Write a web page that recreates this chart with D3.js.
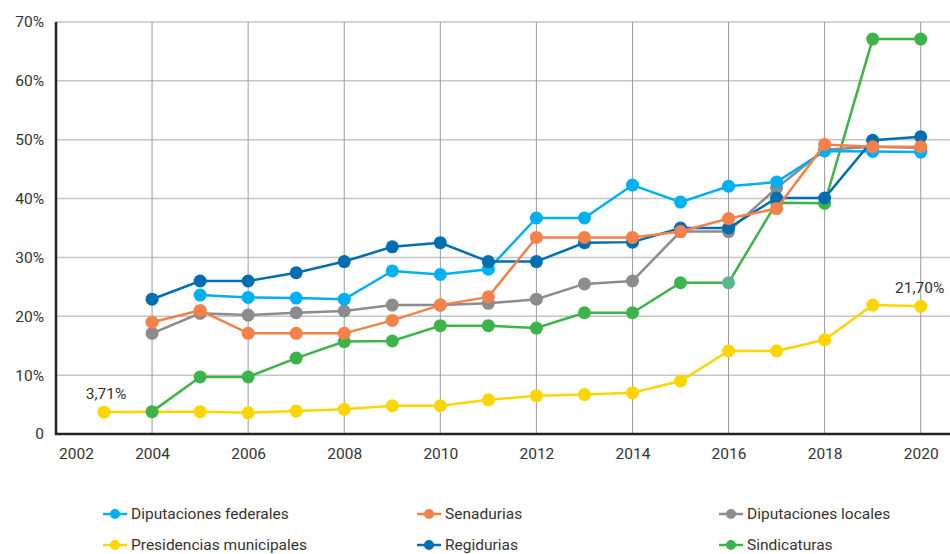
<!DOCTYPE html>
<html>
<head>
<meta charset="utf-8">
<script src="https://cdn.jsdelivr.net/npm/d3@7"></script>
<style>
  body { margin: 0; background: #fff; }
  text { font-family: Roboto, "Noto Sans", sans-serif; fill: #333; }
</style>
</head>
<body>
<div id="chart"></div>
<script>
// data (% of women)
var years = [2003, 2004, 2005, 2006, 2007, 2008, 2009, 2010, 2011, 2012, 2013, 2014, 2015, 2016, 2017, 2018, 2019, 2020];

var dipFederales = [null, null, 23.6, 23.2, 23.1, 22.9, 27.7, 27.1, 28.0, 36.7, 36.7, 42.3, 39.4, 42.1, 42.8, 48.1, 48.0, 47.9];
var senadurias = [null, 19.0, 21.0, 17.1, 17.1, 17.1, 19.3, 21.9, 23.3, 33.4, 33.4, 33.4, 34.4, 36.6, 38.3, 49.2, 48.8, 48.8];
var dipLocales = [null, 17.1, 20.5, 20.2, 20.6, 20.9, 21.9, 21.9, 22.2, 22.9, 25.5, 26.0, 34.4, 34.4, 41.8, 48.3, 48.8, 48.6];
var presidencias = [3.71, 3.8, 3.8, 3.6, 3.9, 4.2, 4.8, 4.8, 5.8, 6.5, 6.7, 7.0, 9.0, 14.1, 14.1, 16.0, 21.9, 21.7];
var regidurias = [null, 22.9, 26.0, 26.0, 27.4, 29.3, 31.8, 32.5, 29.3, 29.3, 32.5, 32.6, 35.0, 35.0, 40.1, 40.1, 49.9, 50.5];
var sindicaturas = [null, 3.8, 9.7, 9.7, 12.9, 15.7, 15.8, 18.4, 18.4, 18.0, 20.6, 20.6, 25.7, 25.7, 39.3, 39.2, 67.1, 67.1];

var xTicks = [2002, 2004, 2006, 2008, 2010, 2012, 2014, 2016, 2018, 2020];
var yTicks = [0, 10, 20, 30, 40, 50, 60, 70];

// legend order (row by row)
var legendSeries = [
  { name: "Diputaciones federales", values: dipFederales, color: "#00b0f0" },
  { name: "Senadurias", values: senadurias, color: "#f4804a" },
  { name: "Diputaciones locales", values: dipLocales, color: "#8c8c8e" },
  { name: "Presidencias municipales", values: presidencias, color: "#ffd500" },
  { name: "Regidurias", values: regidurias, color: "#006eb0" },
  { name: "Sindicaturas", values: sindicaturas, color: "#3db34a" }
];

// drawing order, bottom to top
var drawOrder = ["Presidencias municipales", "Sindicaturas", "Diputaciones locales",
  "Diputaciones federales", "Regidurias", "Senadurias"];

var svgWidth = 950;
var svgHeight = 554;
var fontSize = "15.5px";

var svg = d3.select("#chart")
  .append("svg")
  .attr("width", svgWidth)
  .attr("height", svgHeight);

var xScale = d3.scaleLinear()
  .domain([2002, 2020.61])
  .range([56, 950]);

var yScale = d3.scaleLinear()
  .domain([0, 70])
  .range([434, 22]);

// gridlines
svg.append("g")
  .selectAll("line")
  .data(yTicks.filter(d => d > 0))
  .enter()
  .append("line")
  .attr("x1", xScale(2002))
  .attr("x2", 950)
  .attr("y1", d => yScale(d))
  .attr("y2", d => yScale(d))
  .attr("stroke", "#c4c4c4")
  .attr("stroke-width", 1.5);

svg.append("g")
  .selectAll("line")
  .data(xTicks.filter(d => d > 2002))
  .enter()
  .append("line")
  .attr("x1", d => xScale(d))
  .attr("x2", d => xScale(d))
  .attr("y1", yScale(70))
  .attr("y2", yScale(0))
  .attr("stroke", "#9a9a9a")
  .attr("stroke-width", 1);

// axes
var leftAxis = d3.axisLeft(yScale)
  .tickValues(yTicks)
  .tickSize(0)
  .tickPadding(12)
  .tickFormat(d => d === 0 ? "0" : d + "%");

var bottomAxis = d3.axisBottom(xScale)
  .tickValues(xTicks)
  .tickSize(0)
  .tickPadding(14)
  .tickFormat(d3.format("d"));

var yAxisG = svg.append("g")
  .attr("transform", `translate(${xScale(2002)}, 0)`)
  .call(leftAxis);
yAxisG.select(".domain").remove();
yAxisG.selectAll("text").attr("font-size", fontSize).attr("fill", "#333");

var xAxisG = svg.append("g")
  .attr("transform", `translate(0, ${yScale(0)})`)
  .call(bottomAxis);
xAxisG.select(".domain").remove();
xAxisG.selectAll("text")
  .attr("font-size", fontSize)
  .attr("fill", "#333")
  .attr("dx", d => d === 2002 ? 20 : 0);

svg.append("line")
  .attr("x1", xScale(2002))
  .attr("x2", xScale(2002))
  .attr("y1", yScale(70))
  .attr("y2", yScale(0) + 1)
  .attr("stroke", "#222")
  .attr("stroke-width", 2.5);

svg.append("line")
  .attr("x1", xScale(2002) - 1)
  .attr("x2", 950)
  .attr("y1", yScale(0))
  .attr("y2", yScale(0))
  .attr("stroke", "#222")
  .attr("stroke-width", 2.5);

// series
var line = d3.line()
  .defined(d => d.v !== null)
  .x(d => xScale(d.year))
  .y(d => yScale(d.v));

drawOrder.forEach(function(name) {
  var s = legendSeries.find(d => d.name === name);
  var pts = years.map((y, i) => ({ year: y, v: s.values[i] }));

  svg.append("path")
    .datum(pts)
    .attr("fill", "none")
    .attr("stroke", s.color)
    .attr("stroke-width", 2.5)
    .attr("d", line);

  svg.append("g")
    .selectAll("circle")
    .data(pts.filter(d => d.v !== null))
    .enter()
    .append("circle")
    .attr("cx", d => xScale(d.year))
    .attr("cy", d => yScale(d.v))
    .attr("r", 6.5)
    .attr("fill", d => (name === "Sindicaturas" && d.year === 2016) ? "#5ab88e" : s.color);
});

// value labels on the municipal presidencies line
var firstIdx = 0;
var lastIdx = years.length - 1;
svg.append("text")
  .attr("x", xScale(years[firstIdx]) + 2)
  .attr("y", yScale(presidencias[firstIdx]) - 13)
  .attr("text-anchor", "middle")
  .attr("font-size", fontSize)
  .text(d3.format(".2f")(presidencias[firstIdx]).replace(".", ",") + "%");

svg.append("text")
  .attr("x", xScale(years[lastIdx]) - 1)
  .attr("y", yScale(presidencias[lastIdx]) - 13)
  .attr("text-anchor", "middle")
  .attr("font-size", fontSize)
  .text(d3.format(".2f")(presidencias[lastIdx]).replace(".", ",") + "%");

// legend
var legendX = [103, 417, 719];
var legendY = [514, 545];

var legend = svg.append("g")
  .selectAll("g")
  .data(legendSeries)
  .enter()
  .append("g")
  .attr("transform", (d, i) => `translate(${legendX[i % 3]}, ${legendY[Math.floor(i / 3)]})`);

legend.append("line")
  .attr("x1", 0)
  .attr("x2", 24)
  .attr("stroke", d => d.color)
  .attr("stroke-width", 2.5);

legend.append("circle")
  .attr("cx", 12)
  .attr("r", 5)
  .attr("fill", d => d.color);

legend.append("text")
  .attr("x", 28)
  .attr("dy", "0.35em")
  .attr("font-size", fontSize)
  .text(d => d.name);
</script>
</body>
</html>
